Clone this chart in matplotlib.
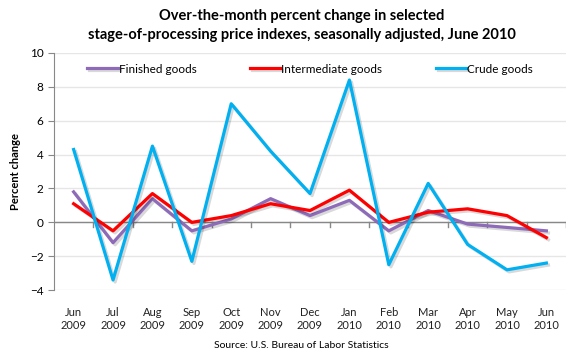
import matplotlib
matplotlib.use("Agg")
import matplotlib.pyplot as plt
import matplotlib.patheffects as pe

meses = ["Jun\n2009", "Jul\n2009", "Aug\n2009", "Sep\n2009", "Oct\n2009", "Nov\n2009",
         "Dec\n2009", "Jan\n2010", "Feb\n2010", "Mar\n2010", "Apr\n2010", "May\n2010",
         "Jun\n2010"]
finished = [1.8, -1.2, 1.4, -0.5, 0.2, 1.4, 0.4, 1.3, -0.5, 0.7, -0.1, -0.3, -0.5]
intermediate = [1.1, -0.5, 1.7, 0.0, 0.4, 1.1, 0.7, 1.9, 0.0, 0.6, 0.8, 0.4, -0.9]
crude = [4.3, -3.4, 4.5, -2.3, 7.0, 4.2, 1.7, 8.4, -2.5, 2.3, -1.3, -2.8, -2.4]

plt.rcParams['font.family'] = ['Lato', 'DejaVu Sans']

fig = plt.figure(figsize=(5.8, 3.6), dpi=100)
ax = fig.add_axes([0.093, 0.194, 0.883, 0.659])

x = list(range(len(meses)))
sombra = [pe.SimpleLineShadow(offset=(1.5, -1.5), alpha=0.15), pe.Normal()]
ax.plot(x, finished, color='#8E6BB8', lw=2.3, label='Finished goods', path_effects=sombra)
ax.plot(x, intermediate, color='#FF0000', lw=2.3, label='Intermediate goods', path_effects=sombra)
ax.plot(x, crude, color='#00B0F0', lw=2.3, label='Crude goods', path_effects=sombra)

ax.set_xlim(-0.5, len(meses) - 0.5)
ax.set_ylim(-4, 10)
ax.set_yticks(range(-4, 11, 2))
ax.set_xticks(x)
ax.set_xticklabels(meses, fontsize=8, color='#222222')
ax.tick_params(axis='x', length=0, pad=12)
ax.tick_params(axis='y', labelsize=8.5, color='#888888', length=4)
ax.grid(axis='y', color='#E6E6E6', lw=1)
ax.set_axisbelow(True)
for s in ['top', 'right', 'bottom']:
    ax.spines[s].set_visible(False)
ax.spines['left'].set_color('#888888')

# linha do zero com marcas entre categorias
ax.axhline(0, color='#888888', lw=1, zorder=1)
for i in range(1, len(meses) + 1):
    ax.plot([i - 0.5, i - 0.5], [0, -0.25], color='#888888', lw=1, zorder=1)

ax.set_ylabel('Percent change', fontsize=8, fontweight='bold', labelpad=6)

ax.legend(loc='upper center', bbox_to_anchor=(0.5, 1.0), ncol=3, frameon=False,
          fontsize=8.5, handlelength=2.6, handletextpad=0.1, columnspacing=4.5)

fig.text(0.52, 0.975, 'Over-the-month percent change in selected\n'
         'stage-of-processing price indexes, seasonally adjusted, June 2010',
         ha='center', va='top', fontsize=10.5, fontweight='bold', linespacing=1.5)
fig.text(0.52, 0.028, 'Source: U.S. Bureau of Labor Statistics', ha='center',
         va='bottom', fontsize=7.5)

fig.savefig('out.png', dpi=100)
